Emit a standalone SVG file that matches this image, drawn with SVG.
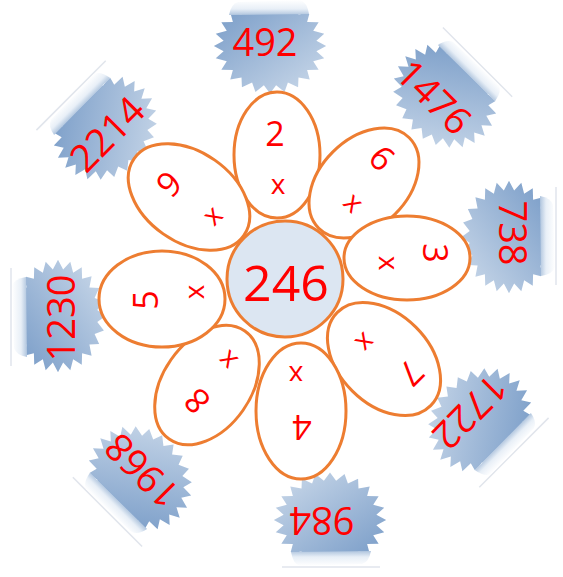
<svg xmlns="http://www.w3.org/2000/svg" xmlns:xlink="http://www.w3.org/1999/xlink" width="563" height="577" viewBox="0 0 563 577">
<style>
.petal{fill:#ffffff;stroke:#ed7d31;stroke-width:3}
.hub{fill:#dce6f2;stroke:#ed7d31;stroke-width:3}
.num{font-family:"Open Sans","DejaVu Sans",sans-serif;fill:#ff0000;text-anchor:middle}
.pn{font-size:34px}
.px{font-size:28px}
.sn{font-size:38px}
.hn{font-size:50px}
</style>
<defs>
<linearGradient id="starGrad" gradientUnits="userSpaceOnUse" x1="-45" y1="-45" x2="35" y2="50">
<stop offset="0" stop-color="#7a9dc8"/>
<stop offset="1" stop-color="#c4d4e7"/>
</linearGradient>
<linearGradient id="foldGrad" gradientUnits="userSpaceOnUse" x1="0" y1="-46" x2="0" y2="-31">
<stop offset="0" stop-color="#ffffff"/>
<stop offset="0.6" stop-color="#e8eff7"/>
<stop offset="1" stop-color="#b0c5de"/>
</linearGradient>
<clipPath id="foldClip">
<rect x="-70" y="-32" width="140" height="110"/>
</clipPath>
<g id="sticker">
<line x1="-50" y1="-47" x2="48" y2="-47" stroke="#e1e5ec" stroke-width="1.5"/>
<g clip-path="url(#foldClip)">
<polygon transform="scale(1.04,0.88)" fill="url(#starGrad)" points="54,0 44.61,5.87 52.16,13.98 41.57,17.22 46.77,27 35.70,27.39 38.18,38.18 27.39,35.70 27,46.77 17.22,41.57 13.98,52.16 5.87,44.61 0,54 -5.87,44.61 -13.98,52.16 -17.22,41.57 -27,46.77 -27.39,35.70 -38.18,38.18 -35.70,27.39 -46.77,27 -41.57,17.22 -52.16,13.98 -44.61,5.87 -54,0 -44.61,-5.87 -52.16,-13.98 -41.57,-17.22 -46.77,-27 -35.70,-27.39 -38.18,-38.18 -27.39,-35.70 -27,-46.77 -17.22,-41.57 -13.98,-52.16 -5.87,-44.61 0,-54 5.87,-44.61 13.98,-52.16 17.22,-41.57 27,-46.77 27.39,-35.70 38.18,-38.18 35.70,-27.39 46.77,-27 41.57,-17.22 52.16,-13.98 44.61,-5.87"/>
</g>
<path d="M-41,-31 Q-39,-42 -32,-44 L30,-46 Q37,-44 39,-32 Z" fill="url(#foldGrad)"/>
</g>
</defs>

<g id="stickers">
<g id="s492"><use xlink:href="#sticker" transform="translate(270,46)"/><text class="num sn" dy="0.36em" transform="translate(265,42)">492</text></g>
<g id="s1476"><use xlink:href="#sticker" transform="translate(445,96) rotate(45)"/><text class="num sn" dy="0.36em" transform="translate(434,97) rotate(45)">1476</text></g>
<g id="s738"><use xlink:href="#sticker" transform="translate(509,237) rotate(90)"/><text class="num sn" dy="0.36em" transform="translate(513,233) rotate(90)">738</text></g>
<g id="s1722"><use xlink:href="#sticker" transform="translate(480,420) rotate(135)"/><text class="num sn" dy="0.36em" transform="translate(470,412) rotate(135)">1722</text></g>
<g id="s984"><use xlink:href="#sticker" transform="translate(330,520) rotate(180)"/><text class="num sn" dy="0.36em" transform="translate(322,521) rotate(180)">984</text></g>
<g id="s1968"><use xlink:href="#sticker" transform="translate(140,478) rotate(225)"/><text class="num sn" dy="0.36em" transform="translate(142,471) rotate(225)">1968</text></g>
<g id="s1230"><use xlink:href="#sticker" transform="translate(58,316) rotate(270)"/><text class="num sn" dy="0.36em" transform="translate(61,318) rotate(270)">1230</text></g>
<g id="s2214"><use xlink:href="#sticker" transform="translate(105,128) rotate(315)"/><text class="num sn" dy="0.36em" transform="translate(107,134) rotate(315)">2214</text></g>
</g>

<g id="petals">
<g id="p2"><ellipse class="petal" cx="0" cy="0" rx="43" ry="63" transform="translate(277,155)"/><text class="num pn" dy="0.36em" transform="translate(275,134)">2</text><text class="num px" dy="0.26em" transform="translate(278,187)">x</text></g>
<g id="p6"><ellipse class="petal" cx="0" cy="0" rx="44" ry="64" transform="translate(364,183) rotate(45)"/><text class="num pn" dy="0.36em" transform="translate(382,158) rotate(45)">6</text><text class="num px" dy="0.26em" transform="translate(352,204) rotate(45)">x</text></g>
<g id="p3"><ellipse class="petal" cx="0" cy="0" rx="42" ry="63" transform="translate(407,258) rotate(90)"/><text class="num pn" dy="0.36em" transform="translate(435,253) rotate(90)">3</text><text class="num px" dy="0.26em" transform="translate(386,263) rotate(90)">x</text></g>
<g id="p7"><ellipse class="petal" cx="0" cy="0" rx="45" ry="66" transform="translate(384,359) rotate(135)"/><text class="num pn" dy="0.36em" transform="translate(411,373) rotate(135)">7</text><text class="num px" dy="0.26em" transform="translate(364,341) rotate(135)">x</text></g>
<g id="p4"><ellipse class="petal" cx="0" cy="0" rx="45" ry="68" transform="translate(301,411) rotate(180)"/><text class="num pn" dy="0.36em" transform="translate(302,427) rotate(180)">4</text><text class="num px" dy="0.26em" transform="translate(296,373) rotate(180)">x</text></g>
<g id="p8"><ellipse class="petal" cx="0" cy="0" rx="44" ry="66" transform="translate(207,385) rotate(215)"/><text class="num pn" dy="0.36em" transform="translate(197,401) rotate(225)">8</text><text class="num px" dy="0.26em" transform="translate(229,359) rotate(225)">x</text></g>
<g id="p5"><ellipse class="petal" cx="0" cy="0" rx="48" ry="63" transform="translate(162,299) rotate(270)"/><text class="num pn" dy="0.36em" transform="translate(146,300) rotate(270)">5</text><text class="num px" dy="0.26em" transform="translate(197,292) rotate(270)">x</text></g>
<g id="p9"><ellipse class="petal" cx="0" cy="0" rx="45" ry="67" transform="translate(189,197) rotate(305)"/><text class="num pn" dy="0.36em" transform="translate(169,184) rotate(315)">9</text><text class="num px" dy="0.26em" transform="translate(214,217) rotate(315)">x</text></g>
</g>

<g id="hub">
<circle class="hub" cx="285" cy="279" r="58"/>
<text class="num hn" dy="0.36em" x="286" y="283">246</text>
</g>
</svg>
